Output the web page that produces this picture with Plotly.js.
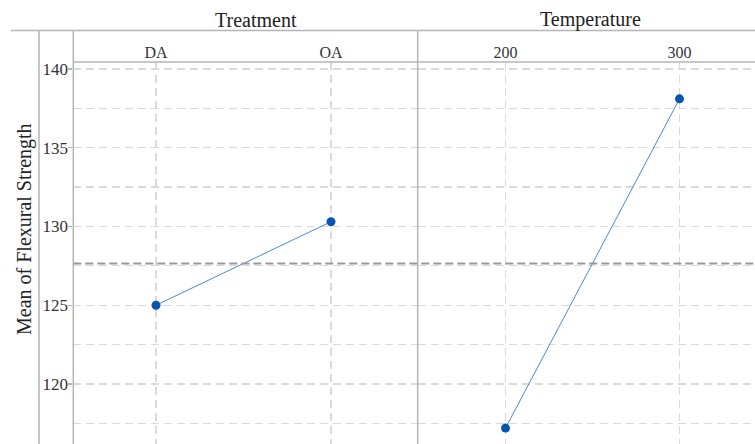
<!DOCTYPE html>
<html>
<head>
<meta charset="utf-8">
<script src="https://cdn.plot.ly/plotly-3.0.1.min.js"></script>
<style>
  html, body { margin: 0; padding: 0; background: #fff; }
  #chart { width: 755px; height: 444px; }
</style>
</head>
<body>
<div id="chart"></div>
<script>
// Main effects of each factor on mean flexural strength
const treatmentLevels = ['DA', 'OA'];
const treatmentMeans = [125.0, 130.3];
const temperatureLevels = ['200', '300'];
const temperatureMeans = [117.2, 138.1];
const factorNames = ['Treatment', 'Temperature'];
const yTitle = 'Mean of Flexural Strength';

const W = 755, H = 444;
const px = x => x / W;           // pixel -> paper x
const py = y => 1 - y / H;       // pixel -> paper y

const plotLeft = 73.3, plotSplit = 417.7, plotTop = 62, headerTop = 30.5;

const grandMean = treatmentMeans.concat(temperatureMeans).reduce((a, b) => a + b, 0) /
                  (treatmentMeans.length + temperatureMeans.length);

const frameColor = '#b5b5b5';
const gridColor = '#dadada';
const serif = '"Liberation Serif", "Times New Roman", Times, serif';

const lineStyle = { color: '#4a89d6', width: 1 };
const markerStyle = { color: '#0656b0', size: 9 };

const traces = [
  { x: treatmentLevels, y: treatmentMeans, xaxis: 'x', yaxis: 'y',
    type: 'scatter', mode: 'lines+markers', line: lineStyle, marker: markerStyle,
    hoverinfo: 'x+y', showlegend: false },
  { x: temperatureLevels, y: temperatureMeans, xaxis: 'x2', yaxis: 'y',
    type: 'scatter', mode: 'lines+markers', line: lineStyle, marker: markerStyle,
    hoverinfo: 'x+y', showlegend: false }
];

const xCommon = {
  type: 'category', side: 'top', anchor: 'y',
  showgrid: true, gridcolor: gridColor, griddash: '8px,5px', gridwidth: 1.2,
  zeroline: false, showline: false, ticks: '',
  tickfont: { family: serif, size: 16, color: '#333' },
  fixedrange: true
};

const layout = {
  width: W, height: H,
  margin: { l: 0, r: 0, t: 0, b: 0 },
  paper_bgcolor: '#fff', plot_bgcolor: '#fff',
  font: { family: serif },
  showlegend: false,
  xaxis: Object.assign({}, xCommon, {
    domain: [px(plotLeft), px(plotSplit)],
    range: [-0.4726, 1.4954]
  }),
  xaxis2: Object.assign({}, xCommon, {
    domain: [px(plotSplit), 1],
    range: [-0.5046, 1.434]
  }),
  yaxis: {
    domain: [0, py(plotTop)],
    range: [116.19, 140.44],
    dtick: 5, tick0: 0,
    showgrid: true, gridcolor: gridColor, griddash: '8px,5px', gridwidth: 1.2,
    minor: { dtick: 2.5, tick0: 0, showgrid: true, gridcolor: gridColor, griddash: '8px,5px', gridwidth: 1.2, ticks: '' },
    ticks: 'outside', ticklen: 4, tickcolor: frameColor, tickwidth: 1.2,
    ticklabelstandoff: -3,
    zeroline: false, showline: false,
    tickfont: { family: serif, size: 17, color: '#333' },
    fixedrange: true
  },
  shapes: [
    // grand mean reference
    { type: 'line', xref: 'paper', yref: 'y', x0: px(plotLeft), x1: 1, y0: grandMean, y1: grandMean,
      line: { color: '#999999', width: 2, dash: '8px,4px' }, layer: 'above' },
    // header and panel frame
    { type: 'line', xref: 'paper', yref: 'paper', x0: px(11), x1: 1, y0: py(headerTop), y1: py(headerTop),
      line: { color: frameColor, width: 1.5 } },
    { type: 'line', xref: 'paper', yref: 'paper', x0: px(plotLeft), x1: 1, y0: py(plotTop), y1: py(plotTop),
      line: { color: frameColor, width: 1.5 } },
    { type: 'line', xref: 'paper', yref: 'paper', x0: px(39), x1: px(39), y0: 0, y1: py(headerTop),
      line: { color: frameColor, width: 1.5 } },
    { type: 'line', xref: 'paper', yref: 'paper', x0: px(plotLeft), x1: px(plotLeft), y0: 0, y1: py(headerTop),
      line: { color: frameColor, width: 1.5 } },
    { type: 'line', xref: 'paper', yref: 'paper', x0: px(plotSplit), x1: px(plotSplit), y0: 0, y1: py(headerTop),
      line: { color: frameColor, width: 1.5 } }
  ],
  annotations: [
    { text: factorNames[0], xref: 'paper', yref: 'paper', x: px(256), y: py(19.5),
      xanchor: 'center', yanchor: 'middle', showarrow: false,
      font: { family: serif, size: 20, color: '#222' } },
    { text: factorNames[1], xref: 'paper', yref: 'paper', x: px(590), y: py(19.5),
      xanchor: 'center', yanchor: 'middle', showarrow: false,
      font: { family: serif, size: 20, color: '#222' } },
    { text: yTitle, xref: 'paper', yref: 'paper', x: px(25), y: py(229),
      xanchor: 'center', yanchor: 'middle', textangle: -90, showarrow: false,
      font: { family: serif, size: 20, color: '#222' } }
  ]
};

Plotly.newPlot('chart', traces, layout, { displayModeBar: false, staticPlot: true });
</script>
</body>
</html>
